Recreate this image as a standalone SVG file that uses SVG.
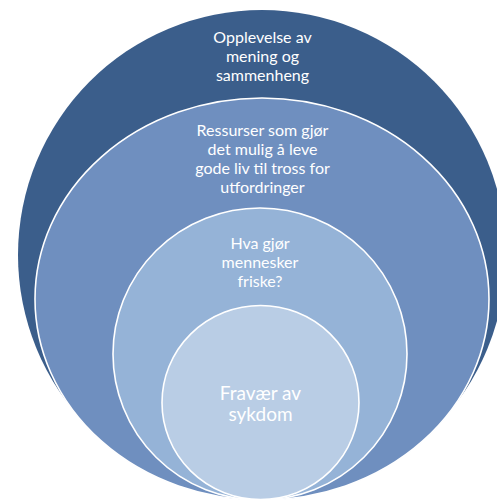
<svg xmlns="http://www.w3.org/2000/svg" width="497" height="501" viewBox="0 0 497 501">
<style>
.t{font-family:Lato,"Open Sans","Liberation Sans",sans-serif;fill:#ffffff;text-anchor:middle;font-size:16px}
.big{font-size:19px}
.ring{stroke:#ffffff;stroke-width:1.6}
</style>
<rect width="497" height="501" fill="#ffffff"/>
<g id="node-outer">
<ellipse cx="262" cy="255" rx="244" ry="245" fill="#3B5E8B"/>
<text class="t" x="262.5" y="43">Opplevelse av</text>
<text class="t" x="262.5" y="62">mening og</text>
<text class="t" x="262.5" y="81">sammenheng</text>
</g>
<g id="node-resources">
<ellipse class="ring" cx="262" cy="299" rx="227" ry="201" fill="#6F8FBF"/>
<text class="t" x="262.5" y="136">Ressurser som gjør</text>
<text class="t" x="262.5" y="155">det mulig å leve</text>
<text class="t" x="262.5" y="174">gode liv til tross for</text>
<text class="t" x="262.5" y="193">utfordringer</text>
</g>
<g id="node-health">
<ellipse class="ring" cx="260" cy="354" rx="147" ry="146" fill="#95B3D7"/>
<text class="t" x="260" y="249">Hva gjør</text>
<text class="t" x="260" y="268">mennesker</text>
<text class="t" x="260" y="287">friske?</text>
</g>
<g id="node-absence">
<ellipse class="ring" cx="260.5" cy="402.5" rx="98.5" ry="97" fill="#B9CDE5"/>
<text class="t big" x="260.5" y="400">Fravær av</text>
<text class="t big" x="260.5" y="421">sykdom</text>
</g>
<g id="connectors"></g>
</svg>
